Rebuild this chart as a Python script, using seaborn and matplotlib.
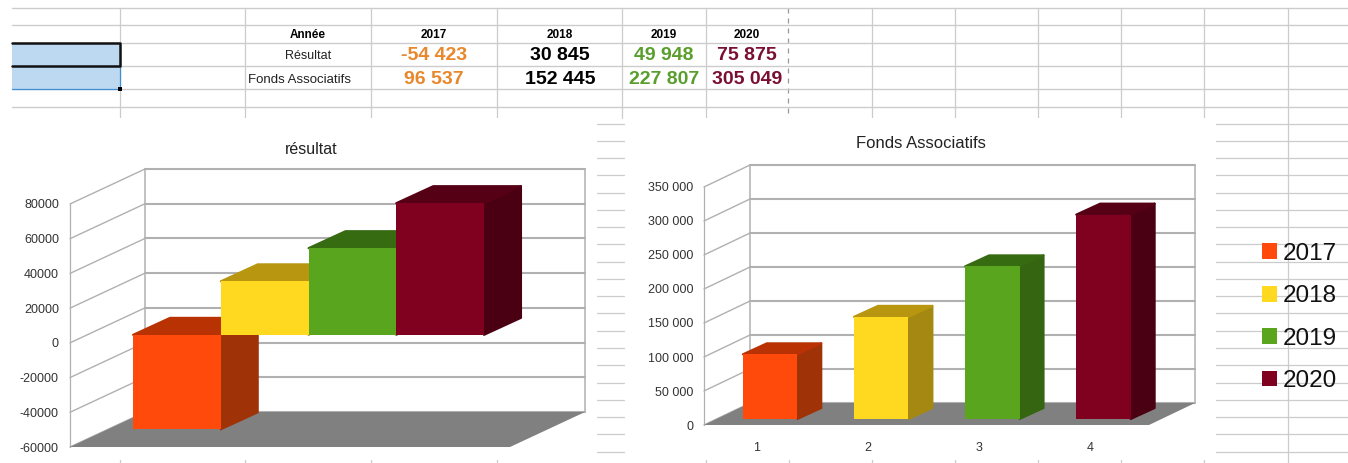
import matplotlib
matplotlib.use('Agg')
import matplotlib.pyplot as plt
from matplotlib.patches import Patch, Polygon, Rectangle
import seaborn as sns

# Values
years = ['2017', '2018', '2019', '2020']
resultat = [-54423, 30845, 49948, 75875]
fonds = [96537, 152445, 227807, 305049]
resultat_text = ['-54 423', '30 845', '49 948', '75 875']
fonds_text = ['96 537', '152 445', '227 807', '305 049']
resultat_ticks = [-60000, -40000, -20000, 0, 20000, 40000, 60000, 80000]
fonds_ticks = [0, 50000, 100000, 150000, 200000, 250000, 300000, 350000]
fonds_tick_text = ['0', '50 000', '100 000', '150 000', '200 000', '250 000', '300 000', '350 000']
fonds_x_text = ['1', '2', '3', '4']

front_colors = ['#ff4a0c', '#ffd920', '#5aa51e', '#800020']
side_colors = ['#a03208', '#a48812', '#356510', '#4a0012']
top_colors = ['#b83204', '#b8960f', '#376b12', '#560016']
text_colors = ['#e8872c', '#000000', '#5a9e2e', '#7a0f33']

W, H = 1348, 463
GRID = '#cccccc'
WALL = '#b0b0b0'

sns.set_theme(style='white')
plt.rcParams['font.family'] = ['Liberation Sans', 'DejaVu Sans']

fig = plt.figure(figsize=(W / 100, H / 100), dpi=100, facecolor='white')


def px_axes(x0, y0, x1, y1, z):
    ax = fig.add_axes([x0 / W, 1 - y1 / H, (x1 - x0) / W, (y1 - y0) / H], zorder=z)
    ax.patch.set_alpha(0)
    return ax


def to_px(ax, x, y):
    dx, dy = ax.transData.transform((x, y))
    return dx, H - dy


# Full figure layer in pixel coordinates for the sheet and the 3D walls
bg = px_axes(0, 0, W, H, 0)
bg.set_xlim(0, W)
bg.set_ylim(H, 0)
bg.axis('off')

# Spreadsheet grid
for x in [120, 245, 371, 497, 705.5, 872, 955, 1038, 1121, 1204, 1287.5]:
    bg.plot([x, x], [8, H], color=GRID, lw=0.9, zorder=1)
bg.plot([622, 622], [8, 118], color=GRID, lw=0.9, zorder=1)
bg.plot([789, 789], [460, H], color=GRID, lw=0.9, zorder=1)
bg.plot([788, 788], [8, 118], color='#999999', lw=0.9, ls=(0, (4, 4)), zorder=1)
for y in [8, 25, 43, 66, 89, 107]:
    bg.plot([12, W], [y, y], color=GRID, lw=1.0, zorder=1)
y = 123.5
while y < H:
    bg.plot([597, W], [y, y], color=GRID, lw=0.9, zorder=1)
    y += 17.27

# Chart areas sit on top of the grid
bg.add_patch(Rectangle((0, 118), 597, 342, fc='white', ec='none', zorder=2))
bg.add_patch(Rectangle((625, 118), 591, 342, fc='white', ec='none', zorder=2))

# Selected cells
bg.add_patch(Rectangle((12, 43), 108, 46, fc='#bdd9f2', ec='none', zorder=3))
bg.plot([12, 120, 120], [89, 89, 66], color='#3d8fd1', lw=0.9, zorder=3)
bg.plot([12, 120, 120, 12], [43, 43, 66, 66], color='#111111', lw=1.8, zorder=4)
bg.add_patch(Rectangle((118, 87), 4, 4, fc='black', ec='none', zorder=5))

# Table text
col_x = [434, 560, 664, 747]
bg.text(308, 35, 'Année', ha='center', va='center', fontsize=8.5, fontweight='bold', color='black', zorder=6)
bg.text(308, 56, 'Résultat', ha='center', va='center', fontsize=9, color='#222222', zorder=6)
bg.text(299, 80, 'Fonds Associatifs', ha='center', va='center', fontsize=9.5, color='#222222', zorder=6)
for i, yr in enumerate(years):
    bg.text(col_x[i], 35, yr, ha='center', va='center', fontsize=8.5, fontweight='bold', color='black', zorder=6)
    bg.text(col_x[i], 56, resultat_text[i], ha='center', va='center', fontsize=14, fontweight='bold', color=text_colors[i], zorder=6)
    bg.text(col_x[i], 79.5, fonds_text[i], ha='center', va='center', fontsize=14, fontweight='bold', color=text_colors[i], zorder=6)


def draw_chart(values, ticks, tick_text, bar_box, front_box, wall_left, wall_dx, wall_dy, wall_right, bar_dx, bar_dy,
               width, pad, x_text=None):
    lo, hi = ticks[0], ticks[-1]

    # Front plane carries the axis labels
    front = px_axes(*front_box, 1)
    front.set_xlim(-0.5, 3.5)
    front.set_ylim(lo, hi)
    front.set_yticks(ticks)
    front.set_yticklabels(tick_text, fontsize=9, color='#333333')
    front.tick_params(axis='y', length=0, pad=pad)
    if x_text:
        front.set_xticks(range(len(x_text)))
        front.set_xticklabels(x_text, fontsize=9, color='#333333')
        front.tick_params(axis='x', length=0, pad=12)
    else:
        front.set_xticks([])
    for s in front.spines.values():
        s.set_visible(False)

    # Walls and floor follow the y scale of the front plane
    x_back = wall_left + wall_dx
    y_low = to_px(front, 0, lo)[1]
    y_high = to_px(front, 0, hi)[1]
    bg.plot([wall_left, wall_left], [y_low, y_high], color=WALL, lw=0.9, zorder=3)
    bg.plot([x_back, x_back], [y_low - wall_dy, y_high - wall_dy], color=WALL, lw=1.1, zorder=3)
    bg.plot([wall_right, wall_right], [y_low - wall_dy, y_high - wall_dy], color=WALL, lw=1.1, zorder=3)
    for t in ticks:
        yp = to_px(front, 0, t)[1]
        bg.plot([wall_left, x_back], [yp, yp - wall_dy], color=WALL, lw=1.0, zorder=3)
        bg.plot([x_back, wall_right], [yp - wall_dy, yp - wall_dy], color=WALL, lw=1.5, zorder=3)
    bg.add_patch(Polygon([(wall_left, y_low), (x_back, y_low - wall_dy), (wall_right, y_low - wall_dy),
                          (wall_right - wall_dx, y_low)], fc='#808080', ec='none', zorder=4))

    # Bars
    ax = px_axes(*bar_box, 2)
    sns.barplot(x=years, y=values, hue=years, palette=front_colors, legend=False, width=width,
                saturation=1, ax=ax, edgecolor='none')
    ax.set_xlim(-0.5, 3.5)
    ax.set_ylim(lo, hi)
    ax.axis('off')

    # Depth faces come from each bar's own box
    for i, bar in enumerate(ax.patches):
        x0, x1 = bar.get_x(), bar.get_x() + bar.get_width()
        y0, y1 = bar.get_y(), bar.get_y() + bar.get_height()
        y0, y1 = min(y0, y1), max(y0, y1)
        xl, yt = to_px(ax, x0, y1)
        xr, yb = to_px(ax, x1, y0)
        bg.add_patch(Polygon([(xr, yt), (xr + bar_dx, yt - bar_dy), (xr + bar_dx, yb - bar_dy), (xr, yb)],
                             fc=side_colors[i], ec=side_colors[i], lw=1.5, joinstyle='round', zorder=5))
        bg.add_patch(Polygon([(xl, yt), (xl + bar_dx, yt - bar_dy), (xr + bar_dx, yt - bar_dy), (xr, yt)],
                             fc=top_colors[i], ec=top_colors[i], lw=1.5, joinstyle='round', zorder=5))


draw_chart(resultat, resultat_ticks, [str(t) for t in resultat_ticks],
           (133, 196, 484, 439), (70, 204, 510, 447), 70, 75, 35, 585, 37, 17, 1.0, 8)
draw_chart(fonds, fonds_ticks, fonds_tick_text,
           (714.5, 184.5, 1159, 419), (701.5, 187, 1146, 425), 704, 46, 22, 1195, 24, 11, 0.49, 6, fonds_x_text)

bg.text(311, 149.5, 'résultat', ha='center', va='center', fontsize=11.5, color='#222222', zorder=6)
bg.text(921, 144, 'Fonds Associatifs', ha='center', va='center', fontsize=12, color='#222222', zorder=6)

# Legend
handles = [Patch(fc=c, ec='none', label=yr) for c, yr in zip(front_colors, years)]
leg = fig.legend(handles=handles, loc='center left', bbox_to_anchor=(1262 / W, 1 - 317.5 / H), frameon=False,
                 fontsize=17.5, labelcolor='#111111', handlelength=0.62, handleheight=0.62, handletextpad=0.25,
                 labelspacing=0.84, borderpad=0, borderaxespad=0)
leg.set_zorder(10)

fig.savefig('out.png', dpi=100)
